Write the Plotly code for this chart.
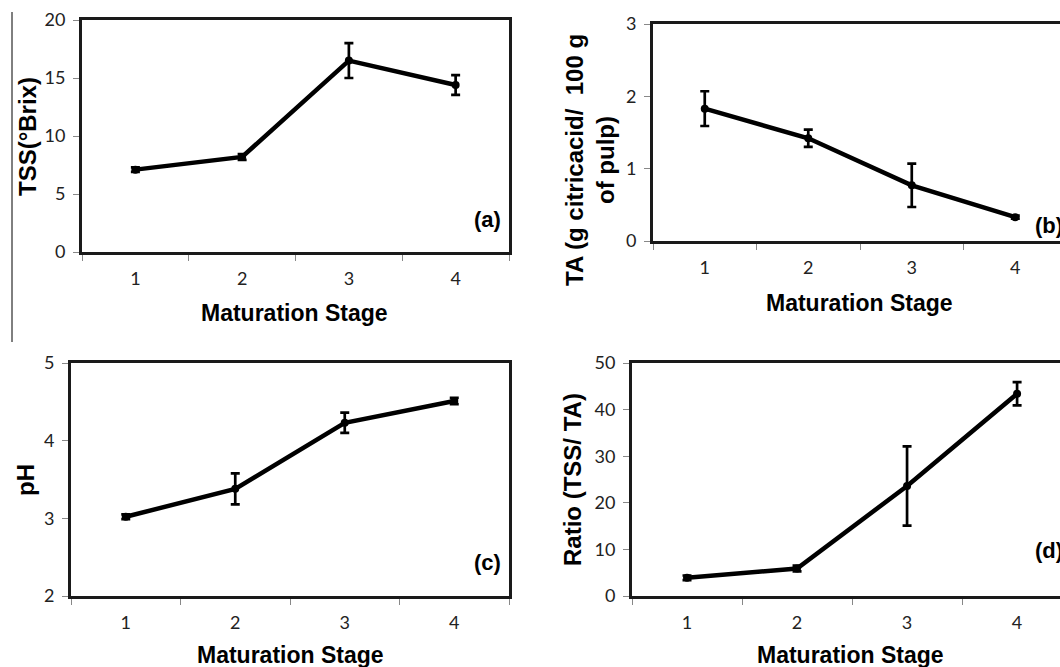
import plotly.graph_objects as go

stages = ["1", "2", "3", "4"]
tss = [7.1, 8.2, 16.5, 14.4]
tss_err = [0.2, 0.25, 1.5, 0.85]
ta = [1.83, 1.42, 0.77, 0.33]
ta_err = [0.24, 0.12, 0.3, 0.02]
ph = [3.02, 3.38, 4.23, 4.51]
ph_err = [0.03, 0.2, 0.13, 0.04]
ratio = [3.9, 5.9, 23.6, 43.4]
ratio_err = [0.5, 0.6, 8.5, 2.5]

y_ticks_a = [0, 5, 10, 15, 20]
y_ticks_b = [0, 1, 2, 3]
y_ticks_c = [2, 3, 4, 5]
y_ticks_d = [0, 10, 20, 30, 40, 50]

W, H = 1060, 667


def px_x(p):
    return p / W


def px_y(p):
    return 1 - p / H


fig = go.Figure()

series = [
    (tss, tss_err, "x", "y"),
    (ta, ta_err, "x2", "y2"),
    (ph, ph_err, "x3", "y3"),
    (ratio, ratio_err, "x4", "y4"),
]
for vals, errs, xa, ya in series:
    fig.add_trace(go.Scatter(
        x=stages, y=vals, xaxis=xa, yaxis=ya, mode="lines+markers",
        line=dict(color="black", width=4.5),
        marker=dict(color="black", size=8),
        error_y=dict(type="data", array=errs, visible=True, color="black",
                     thickness=2.7, width=4.5),
        showlegend=False, cliponaxis=False, hoverinfo="skip",
    ))

tick_font = dict(family="Lato, Open Sans, sans-serif", size=18, color="#222")
common_x = dict(type="category", tickson="boundaries", ticks="outside", ticklen=6,
                tickwidth=1, tickcolor="#888", showline=True, linecolor="#1a1a1a",
                linewidth=3, mirror=True, showgrid=False, zeroline=False,
                tickfont=tick_font, ticklabelstandoff=8, automargin=False)
common_y = dict(ticks="outside", ticklen=6, tickwidth=1, tickcolor="#888",
                showline=True, linecolor="#1a1a1a", linewidth=3, mirror=True,
                showgrid=False, zeroline=False, tickfont=tick_font,
                ticklabelstandoff=4, automargin=False)

fig.update_layout(
    width=W, height=H, margin=dict(l=0, r=0, t=0, b=0, autoexpand=False),
    paper_bgcolor="white", plot_bgcolor="white",
    xaxis=dict(common_x, domain=[px_x(82), px_x(509)], range=[-0.5, 3.5], anchor="y"),
    yaxis=dict(common_y, domain=[px_y(252), px_y(20)], range=[0, 20],
               tickvals=y_ticks_a, anchor="x"),
    xaxis2=dict(common_x, domain=[px_x(653), 1.0], range=[-0.5, 3.432], anchor="y2"),
    yaxis2=dict(common_y, domain=[px_y(241), px_y(24)], range=[0, 3],
                tickvals=y_ticks_b, anchor="x2"),
    xaxis3=dict(common_x, domain=[px_x(71), px_x(509)], range=[-0.5, 3.5], anchor="y3"),
    yaxis3=dict(common_y, domain=[px_y(596), px_y(363)], range=[2, 5],
                tickvals=y_ticks_c, anchor="x3"),
    xaxis4=dict(common_x, domain=[px_x(632), 1.0], range=[-0.5, 3.39], anchor="y4"),
    yaxis4=dict(common_y, domain=[px_y(596), px_y(363)], range=[0, 50],
                tickvals=y_ticks_d, anchor="x4"),
)

title_font = dict(family="Liberation Sans, Arial, sans-serif", size=23, color="black")
ytitle_font = dict(family="Liberation Sans, Arial, sans-serif", size=24, color="black")


def ann(text, x, y, font, angle=0, xanchor="center", yanchor="middle"):
    fig.add_annotation(text=text, x=px_x(x), y=px_y(y), xref="paper", yref="paper",
                       showarrow=False, font=font, textangle=angle,
                       xanchor=xanchor, yanchor=yanchor)


ann("<b>Maturation Stage</b>", 294, 313, title_font)
ann("<b>Maturation Stage</b>", 859, 303, title_font)
ann("<b>Maturation Stage</b>", 290, 655, title_font)
ann("<b>Maturation Stage</b>", 850, 655, title_font)

ann("<b>TSS(°Brix)</b>", 27, 137, ytitle_font, angle=-90)
ann("<b>TA (g citricacid/  100 g<br>of pulp)</b>", 590, 160, ytitle_font, angle=-90)
ann("<b>pH</b>", 25, 480, ytitle_font, angle=-90)
ann("<b>Ratio (TSS/ TA)</b>", 572, 480, ytitle_font, angle=-90)

lab_font = dict(family="Liberation Sans, Arial, sans-serif", size=22, color="black")
ann("<b>(a)</b>", 487, 219, lab_font)
ann("<b>(b)</b>", 1033, 226, lab_font, xanchor="left")
ann("<b>(c)</b>", 487, 562, lab_font)
ann("<b>(d)</b>", 1033, 550, lab_font, xanchor="left")

fig.add_shape(type="line", xref="paper", yref="paper",
              x0=px_x(12), x1=px_x(12), y0=px_y(12), y1=px_y(342),
              line=dict(color="black", width=1))

fig.write_html("out.html", config={"displayModeBar": False},
               post_script="document.body.style.margin='0';")
